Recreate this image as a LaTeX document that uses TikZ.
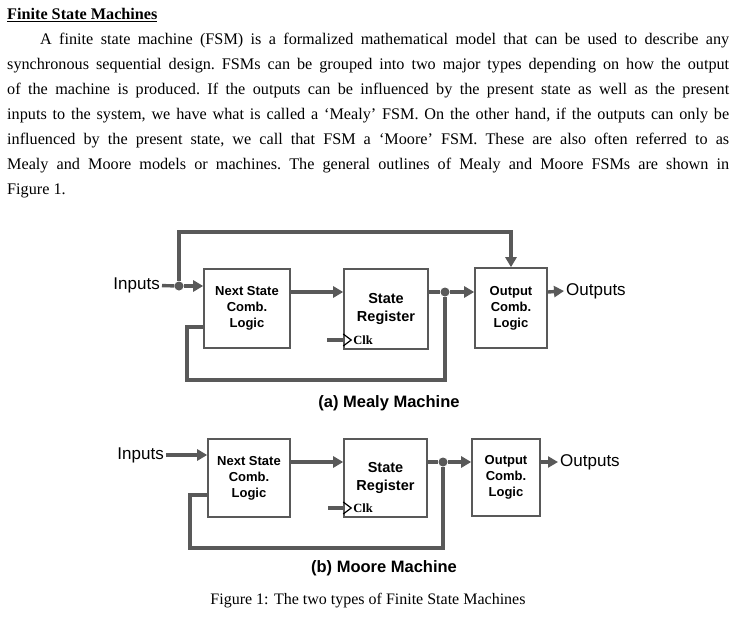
\documentclass[tikz,border=0pt]{standalone}
\usepackage{fontspec}
\setmainfont{Liberation Serif}
\newfontfamily\arialf{Liberation Sans}
\usetikzlibrary{arrows.meta}
\definecolor{couleurligne}{HTML}{595959}
\tikzset{
		ligne/.style={draw=couleurligne, line width=3.4pt},
		fleche/.style={ligne, -{Triangle[length=10pt,width=11pt]}},
		bloc/.style={draw=couleurligne, line width=1.6pt, fill=white, align=center, inner sep=0pt, font=\arialf\bfseries\fontsize{13}{16}\selectfont},
		registre/.style={bloc, font=\arialf\bfseries\fontsize{14.5}{18}\selectfont},
		etiq/.style={font=\arialf\fontsize{17}{18}\selectfont, inner sep=2pt},
		titre/.style={font=\arialf\bfseries\fontsize{16.5}{18}\selectfont, inner sep=0pt},
		point/.style={circle, fill=couleurligne, inner sep=0pt, minimum size=9pt},
		horl/.style={font=\bfseries\fontsize{12.5}{13}\selectfont, inner sep=0pt, anchor=west}
	}
\begin{document}
\begin{tikzpicture}[x=1pt,y=-1pt]
		\useasboundingbox (0,0) rectangle (748,624);
		% texte
		\node[anchor=north west, inner sep=0pt, text width=722pt, align=justify, font=\frenchspacing\fontsize{16.2}{25}\selectfont] (texte) at (7,8)
			{\textbf{\underline{Finite State Machines}}\par
			\hspace*{33pt}A finite state machine (FSM) is a formalized mathematical model that can be used to describe any\linebreak
			synchronous sequential design. FSMs can be grouped into two major types depending on how the output\linebreak
			of the machine is produced. If the outputs can be influenced by the present state as well as the present\linebreak
			inputs to the system, we have what is called a `Mealy' FSM. On the other hand, if the outputs can only be\linebreak
			influenced by the present state, we call that FSM a `Moore' FSM. These are also often referred to as\linebreak
			Mealy and Moore models or machines. The general outlines of Mealy and Moore FSMs are shown in\linebreak
			Figure 1.\par};
		% Mealy
		\node[bloc, minimum width=86pt, minimum height=79pt] (mns) at (247,308.5) {Next State\\Comb.\\Logic};
		\node[registre, minimum width=84pt, minimum height=80pt] (msr) at (386,309) {State\\Register};
		\node[bloc, minimum width=72pt, minimum height=80pt] (moc) at (511,308) {Output\\Comb.\\Logic};
		\node[etiq, anchor=east] (minp) at (162,285) {Inputs};
		\node[etiq, anchor=west] (mout) at (564,291) {Outputs};
		\node[titre] (mcap) at (389,403) {(a) Mealy Machine};
		\node[point] (mi) at (179,286) {};
		\node[point] (mq) at (445,292) {};
		\coordinate (mhaut) at (0,232);
		\coordinate (mbas) at (187,380);
		\coordinate (mclk) at (327,340);
		\draw[ligne] (minp) -- (mi);
		\draw[fleche] (mi) -- (mns.west |- mi);
		\draw[fleche] (mi) |- (moc.north |- mhaut) -- (moc.north);
		\draw[fleche] (mns.east |- mq) -- (msr.west |- mq);
		\draw[ligne] (msr.east |- mq) -- (mq);
		\draw[fleche] (mq) -- (moc.west |- mq);
		\draw[ligne] (mq) |- (mbas) -- (mbas |- 0,327) -- (mns.west |- 0,327);
		\draw[fleche] (moc.east |- 0,292) -- (mout.west);
		\draw[ligne] (mclk) -- (msr.west |- mclk);
		\draw[black, line width=1.2pt] ([yshift=-6pt]msr.west |- mclk) -- ([xshift=8pt]msr.west |- mclk) -- ([yshift=6pt]msr.west |- mclk);
		\node[horl] (mck) at ([xshift=10pt]msr.west |- mclk) {Clk};
		% Moore
		\node[bloc, minimum width=82pt, minimum height=78pt] (ons) at (249,478) {Next State\\Comb.\\Logic};
		\node[registre, minimum width=83pt, minimum height=78pt] (osr) at (385.5,478) {State\\Register};
		\node[bloc, minimum width=68pt, minimum height=77pt] (ooc) at (506,477.5) {Output\\Comb.\\Logic};
		\node[etiq, anchor=east] (oinp) at (166,455) {Inputs};
		\node[etiq, anchor=west] (oout) at (558,462) {Outputs};
		\node[titre] (ocap) at (384,568) {(b) Moore Machine};
		\node[point] (oq) at (443,462) {};
		\coordinate (obas) at (190,548);
		\coordinate (oclk) at (328,508);
		\draw[fleche] (oinp) -- (ons.west |- oinp);
		\draw[fleche] (ons.east |- oq) -- (osr.west |- oq);
		\draw[ligne] (osr.east |- oq) -- (oq);
		\draw[fleche] (oq) -- (ooc.west |- oq);
		\draw[ligne] (oq) |- (obas) -- (obas |- 0,495) -- (ons.west |- 0,495);
		\draw[fleche] (ooc.east |- oq) -- (oout.west);
		\draw[ligne] (oclk) -- (osr.west |- oclk);
		\draw[black, line width=1.2pt] ([yshift=-6pt]osr.west |- oclk) -- ([xshift=8pt]osr.west |- oclk) -- ([yshift=6pt]osr.west |- oclk);
		\node[horl] (ock) at ([xshift=10pt]osr.west |- oclk) {Clk};
		% legende
		\node[inner sep=0pt, font=\fontsize{16}{18}\selectfont] (legende) at (368,601) {Figure 1: The two types of Finite State Machines};
	\end{tikzpicture}
\end{document}
